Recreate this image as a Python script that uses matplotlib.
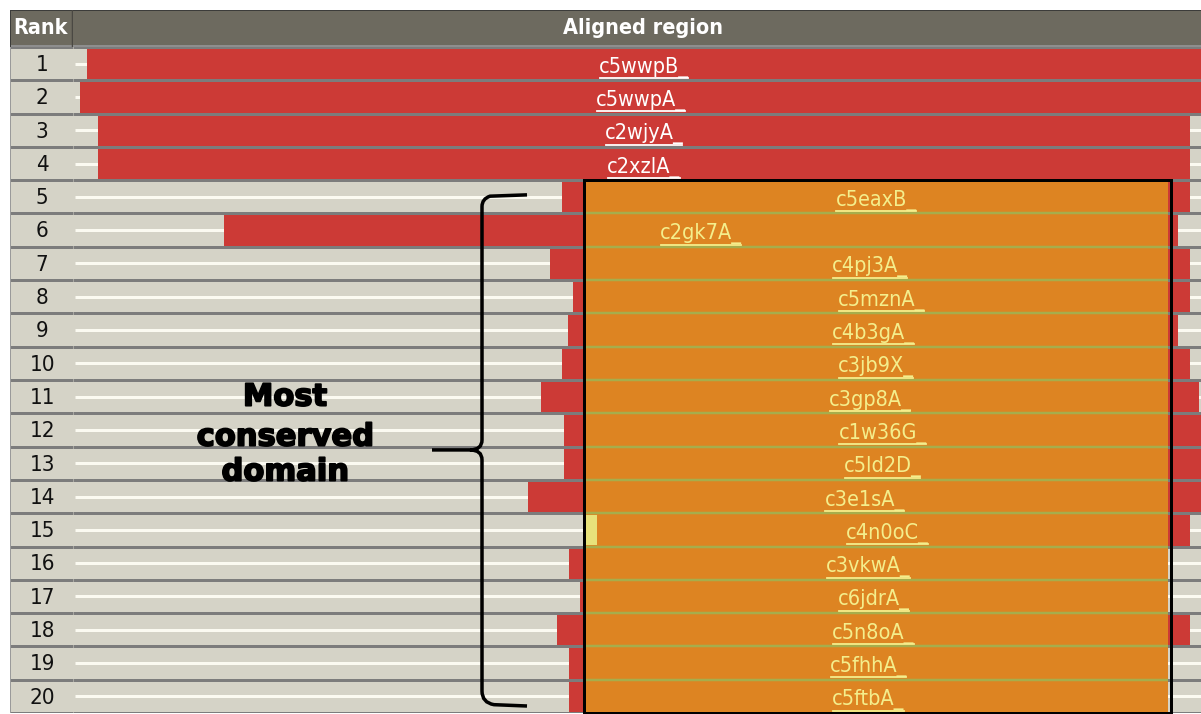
import matplotlib
matplotlib.use("Agg")
import matplotlib.pyplot as plt
import matplotlib.patheffects as pe
from matplotlib.patches import Rectangle, PathPatch
from matplotlib.path import Path
from matplotlib.lines import Line2D
from matplotlib.transforms import IdentityTransform
from matplotlib import font_manager

# ---------------- data ----------------
ranks = list(range(1, 21))
templates = ["c5wwpB_", "c5wwpA_", "c2wjyA_", "c2xzlA_", "c5eaxB_",
             "c2gk7A_", "c4pj3A_", "c5mznA_", "c4b3gA_", "c3jb9X_",
             "c3gp8A_", "c1w36G_", "c5ld2D_", "c3e1sA_", "c4n0oC_",
             "c3vkwA_", "c6jdrA_", "c5n8oA_", "c5fhhA_", "c5ftbA_"]
query_len = 1128
align_start = [14, 7, 25, 25, 489, 151, 477, 500, 495, 489,
               468, 491, 491, 455, 512, 496, 507, 484, 496, 496]
align_end = [1128, 1128, 1117, 1117, 1117, 1105, 1117, 1117, 1105, 1117,
             1126, 1128, 1128, 1128, 1117, 1095, 1095, 1117, 1095, 1095]
lowconf_rank = 15
lowconf_start, lowconf_end = 512, 524
domain_first_rank, domain_last_rank = 5, 20
domain_start, domain_end = 512, 1095
header_rank = "Rank"
header_aligned = "Aligned region"
domain_label = ["Most", "conserved", "domain"]

# ---------------- style ----------------
BG = "#d5d3c7"
WHITE_LINE = "#fbfaf1"
RED = "#cc3a36"
ORANGE = "#dd8422"
OLIVE = "#a6ad4c"
YELLOW_TXT = "#f4ee8c"
LOWCONF = "#e8e27a"
HEADER = "#6d6a5f"
SEP = "#7c7c7c"

W, H = 1201, 714
DPI = 100

names = {f.name for f in font_manager.fontManager.ttflist}
has_cond = any(f.name == "DejaVu Sans" and "Condensed" in f.fname
               for f in font_manager.fontManager.ttflist)
if has_cond:
    FONT = dict(family="DejaVu Sans", fontstretch="condensed")
    LSIZE = 15.5
elif "Liberation Sans Narrow" in names:
    FONT = dict(family="Liberation Sans Narrow")
    LSIZE = 17.5
else:
    FONT = dict(family="DejaVu Sans")
    LSIZE = 14

fig = plt.figure(figsize=(W / DPI, H / DPI), dpi=DPI)
fig.patch.set_facecolor("white")

top_px, bot_px = 47, 713
left_rank, left_al, right_px = 10, 73, 1201


def fbox(x0, y0, x1, y1):
    return [x0 / W, 1 - y1 / H, (x1 - x0) / W, (y1 - y0) / H]


ax_rank = fig.add_axes(fbox(left_rank, top_px, left_al, bot_px))
ax = fig.add_axes(fbox(left_al, top_px, right_px, bot_px))
ax_hr = fig.add_axes(fbox(left_rank, 10, left_al, top_px))
ax_ha = fig.add_axes(fbox(left_al, 10, right_px, top_px))

n = len(ranks)
for a in (ax, ax_rank):
    a.set_facecolor(BG)
    a.set_ylim(n + 0.5, 0.5)
    for s in a.spines.values():
        s.set_visible(False)
    a.set_xticks([])
    a.set_yticks([])
ax.set_xlim(0, query_len)
ax_rank.set_xlim(0, 1)

px2pt = 72.0 / DPI

# white unaligned lines
ax.hlines(ranks, 2, query_len, colors=WHITE_LINE, lw=3 * px2pt, zorder=1)
# red aligned bars
ax.barh(ranks, [e - s for s, e in zip(align_start, align_end)],
        left=align_start, height=1.0, color=RED, zorder=2, lw=0)
# row separators
bounds = [r + 0.5 for r in range(0, n + 1)]
ax.hlines(bounds, 0, query_len, colors=SEP, lw=3 * px2pt, zorder=3)
ax_rank.hlines(bounds, 0, 1, colors=SEP, lw=3 * px2pt, zorder=3)
ax_rank.axvline(0, color="#9a9a9a", lw=2 * px2pt, zorder=4)

# orange conserved domain overlay
ax.add_patch(Rectangle((domain_start, domain_first_rank - 0.5),
                       domain_end - domain_start,
                       domain_last_rank - domain_first_rank + 1,
                       facecolor=ORANGE, edgecolor="none", zorder=4))
ax.hlines([r + 0.5 for r in range(domain_first_rank, domain_last_rank)],
          domain_start, domain_end, colors=OLIVE, lw=2.5 * px2pt, zorder=5)
ax.barh([lowconf_rank], [lowconf_end - lowconf_start], left=[lowconf_start],
        height=0.9, color=LOWCONF, zorder=5, lw=0)
ax.add_patch(Rectangle((domain_start - 1, domain_first_rank - 0.5),
                       domain_end - domain_start + 4,
                       domain_last_rank - domain_first_rank + 1,
                       facecolor="none", edgecolor="black",
                       lw=3 * px2pt, zorder=8, clip_on=False))

# rank numbers
for r in ranks:
    ax_rank.text(0.51, r + 0.04, str(r), ha="center", va="center",
                 fontsize=LSIZE + 0.5, color="#111111", zorder=5, **FONT)

# template labels
base_off = 0.27
label_texts = []
for r, name, s, e in zip(ranks, templates, align_start, align_end):
    in_dom = domain_first_rank <= r <= domain_last_rank
    col = YELLOW_TXT if in_dom else "white"
    t = ax.text((s + e) / 2, r + base_off, name, ha="center", va="baseline",
                fontsize=LSIZE, color=col, zorder=9, **FONT)
    label_texts.append((t, r, col))

# headers
for a, c in ((ax_hr, HEADER), (ax_ha, HEADER)):
    a.set_facecolor(c)
    a.set_xticks([])
    a.set_yticks([])
    for s in a.spines.values():
        s.set_visible(False)
    a.set_xlim(0, 1)
    a.set_ylim(0, 1)
    a.axhline(1, color="#3c3c3a", lw=2 * px2pt)
    a.axhline(0.04, color="#8e8e8e", lw=3 * px2pt)
ax_hr.axvline(1, color="#4a4843", lw=2.5 * px2pt)
ax_hr.axvline(0, color="#3c3c3a", lw=2 * px2pt)
ax_hr.text(0.48, 0.5, header_rank, ha="center", va="center", color="white",
           fontsize=LSIZE, fontweight="bold", **FONT)
ax_ha.text(0.505, 0.5, header_aligned, ha="center", va="center",
           color="white", fontsize=LSIZE, fontweight="bold", **FONT)

# brace
xb = domain_start - 103
top = domain_first_rank - 0.06
bot = domain_last_rank + 0.29
mid = 12.6
verts = [(xb + 45, top), (xb + 8, top + 0.04), (xb, top + 0.12), (xb, top + 0.35),
         (xb, mid - 0.3), (xb, mid), (xb - 12, mid), (xb - 50, mid),
         (xb - 12, mid), (xb, mid), (xb, mid + 0.3),
         (xb, bot - 0.45), (xb, bot - 0.1), (xb + 12, bot - 0.04), (xb + 45, bot)]
codes = [Path.MOVETO, Path.LINETO, Path.CURVE3, Path.CURVE3,
         Path.LINETO, Path.CURVE3, Path.CURVE3, Path.LINETO,
         Path.MOVETO, Path.CURVE3, Path.CURVE3,
         Path.LINETO, Path.CURVE3, Path.CURVE3, Path.LINETO]
ax.add_patch(PathPatch(Path(verts, codes), facecolor="none", edgecolor="black",
                       lw=3.5 * px2pt, zorder=8, capstyle="butt"))

for word, yb in zip(domain_label, [11.27, 12.47, 13.52]):
    ax.text(212, yb, word, ha="center", va="baseline", fontsize=22,
            fontweight="bold", family="DejaVu Sans", color="black", zorder=9,
            path_effects=[pe.withStroke(linewidth=1.3, foreground="black")])

# underlines under the template labels
fig.canvas.draw()
renderer = fig.canvas.get_renderer()
fs_px = LSIZE * DPI / 72.0
for t, r, col in label_texts:
    bb = t.get_window_extent(renderer)
    by = ax.transData.transform((0, r + base_off))[1]
    uy = by - 0.25 * fs_px
    fig.add_artist(Line2D([bb.x0 + 1, bb.x1 - 1], [uy, uy], color=col,
                          lw=1.8 * px2pt, transform=IdentityTransform(),
                          zorder=10))

fig.savefig("out.png", dpi=DPI, facecolor="white")
